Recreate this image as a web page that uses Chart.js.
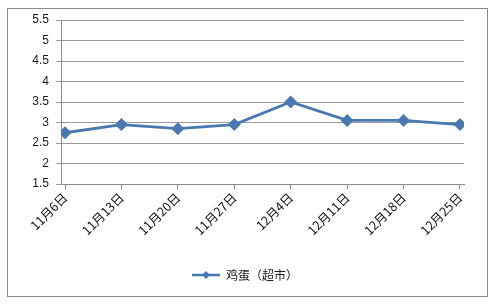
<!DOCTYPE html>
<html>
<head>
<meta charset="utf-8">
<script src="https://cdn.jsdelivr.net/npm/chart.js"></script>
<style>
    html, body { margin: 0; padding: 0; background: #fff; }
    #wrap { position: relative; width: 494px; height: 305px; }
    #frame { position: absolute; left: 7px; top: 8px; width: 479px; height: 287px; border: 1px solid #8c8c8c; }
    canvas { position: absolute; left: 0; top: 0; }
</style>
</head>
<body>
<div id="wrap">
    <canvas id="myChart" width="494" height="305"></canvas>
    <div id="frame"></div>
</div>
<script>
(function() {

    'use strict';

    var categories = [ "11月6日", "11月13日", "11月20日", "11月27日", "12月4日", "12月11日", "12月18日", "12月25日" ];
    var eggPrices = [ 2.75, 2.95, 2.85, 2.95, 3.5, 3.05, 3.05, 2.95 ];
    var seriesName = "鸡蛋（超市）";
    var yTicks = [ 1.5, 2, 2.5, 3, 3.5, 4, 4.5, 5, 5.5 ];

    var lineColor = "#4a78b0";

    // legend symbol: short line with a diamond, like the Excel legend
    function legendSymbol() {
        var c = document.createElement("canvas");
        c.width = 28;
        c.height = 10;
        var g = c.getContext("2d");
        g.strokeStyle = lineColor;
        g.lineWidth = 2.5;
        g.beginPath();
        g.moveTo(0, 5);
        g.lineTo(28, 5);
        g.stroke();
        g.fillStyle = lineColor;
        g.beginPath();
        g.moveTo(14, 1);
        g.lineTo(18, 5);
        g.lineTo(14, 9);
        g.lineTo(10, 5);
        g.closePath();
        g.fill();
        return c;
    }

    var ctx = document.getElementById("myChart");
    var myChart = new Chart(ctx, {
        type : 'line',
        data : {
            datasets : [ {
                label : seriesName,
                data : eggPrices.map(function(v, i) { return { x : i, y : v }; }),
                borderColor : lineColor,
                backgroundColor : lineColor,
                borderWidth : 2.8,
                pointStyle : 'rectRot',
                pointRadius : 4.5,
                pointHoverRadius : 4.5,
                pointBackgroundColor : lineColor,
                pointBorderColor : lineColor,
                tension : 0
            } ]
        },
        options : {
            responsive : false,
            animation : false,
            devicePixelRatio : 1,
            layout : {
                padding : { top : 20, right : 30, bottom : 14, left : 26 }
            },
            scales : {
                x : {
                    type : 'linear',
                    min : -0.071,
                    max : 7.071,
                    afterBuildTicks : function(scale) {
                        scale.ticks = categories.map(function(c, i) { return { value : i }; });
                    },
                    afterFit : function(scale) {
                        scale.height = 75;
                    },
                    grid : {
                        drawOnChartArea : false,
                        drawTicks : true,
                        tickLength : 5,
                        color : "#8c8c8c"
                    },
                    border : { color : "#8c8c8c", width : 1 },
                    ticks : {
                        autoSkip : false,
                        minRotation : 45,
                        maxRotation : 45,
                        padding : 1,
                        color : "#111",
                        font : { family : "'Noto Sans CJK SC'", size : 12.5 },
                        callback : function(value) { return categories[value]; }
                    }
                },
                y : {
                    min : 1.5,
                    max : 5.5,
                    afterBuildTicks : function(scale) {
                        scale.ticks = yTicks.map(function(v) { return { value : v }; });
                    },
                    afterFit : function(scale) {
                        scale.width = 35;
                    },
                    grid : {
                        color : "#9a9a9a",
                        tickLength : 5,
                        lineWidth : 1
                    },
                    border : { color : "#8c8c8c", width : 1 },
                    ticks : {
                        padding : 7,
                        color : "#1a1a1a",
                        font : { family : "'Liberation Sans'", size : 12 },
                        callback : function(value) { return String(value); }
                    }
                }
            },
            plugins : {
                tooltip : { enabled : false },
                legend : {
                    display : true,
                    position : 'bottom',
                    labels : {
                        color : "#1a1a1a",
                        font : { family : "'Noto Sans CJK SC'", size : 12 },
                        padding : 10,
                        usePointStyle : true,
                        pointStyleWidth : 28,
                        generateLabels : function(chart) {
                            return [ {
                                text : seriesName,
                                pointStyle : legendSymbol(),
                                fontColor : "#1a1a1a",
                                datasetIndex : 0,
                                lineWidth : 0
                            } ];
                        }
                    }
                }
            }
        }
    });

})();
</script>
</body>
</html>
